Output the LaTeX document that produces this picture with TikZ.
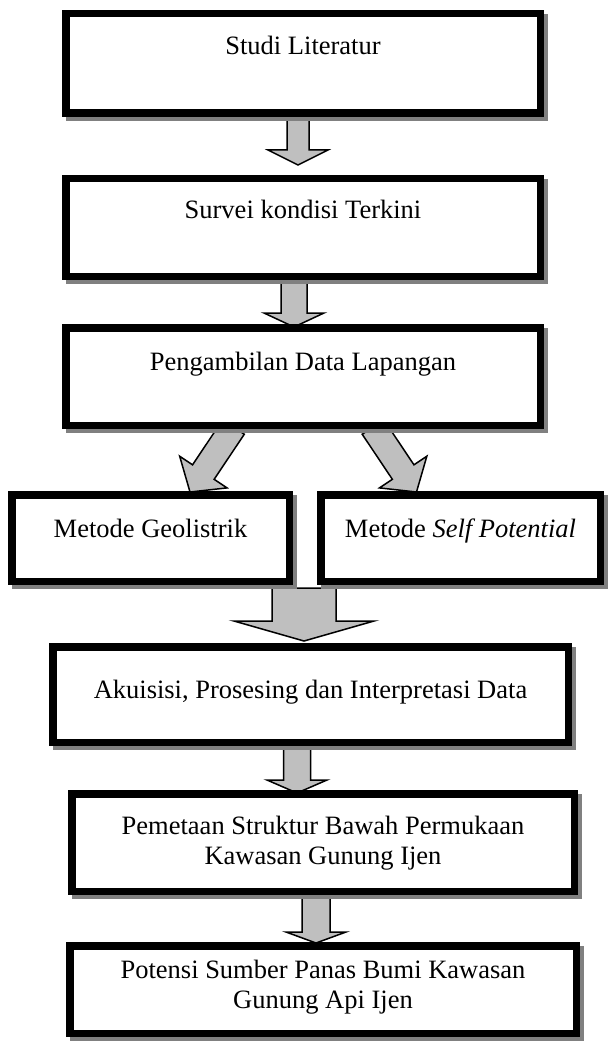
\documentclass[tikz,border=0pt]{standalone}
\usepackage{fontspec}
\setmainfont{Liberation Serif}
\usetikzlibrary{calc}
\tikzset{
  box/.style={draw=black, line width=7.5pt, fill=white, rectangle, inner sep=0pt},
  boxshadow/.style={fill=black!50, draw=none},
  lbl/.style={font=\fontsize{26.5}{30}\selectfont, inner sep=0pt, align=center},
  blockarrow/.style={fill=black!25, draw=black, line width=1.5pt, line join=miter},
}
\newcommand{\flowbox}[5]{%
  \pgfmathsetmacro{\bw}{#4-#2-7.5}%
  \pgfmathsetmacro{\bh}{#5-#3-7.5}%
  \pgfmathsetmacro{\bcx}{(#2+#4)/2}%
  \pgfmathsetmacro{\bcy}{(#3+#5)/2}%
  \fill[boxshadow] (#2+4,#3+4) rectangle (#4+4,#5+4);
  \node[box, minimum width=\bw pt, minimum height=\bh pt] (#1) at (\bcx,\bcy) {};
}
\newcommand{\blockarrowpath}[5]{%
  \coordinate (hb) at ($(#2)!#5!(#1)$);
  \draw[blockarrow] ($(#1)!#3!90:(#2)$) -- ($(hb)!#3!-90:(#1)$) -- ($(hb)!#4!-90:(#1)$) -- (#2) -- ($(hb)!#4!90:(#1)$) -- ($(hb)!#3!90:(#1)$) -- ($(#1)!#3!-90:(#2)$) -- cycle;
}
\begin{document}
\begin{tikzpicture}[x=1pt, y=-1pt]
\useasboundingbox (0,0) rectangle (608,1043);

% arrow end points
\coordinate (s12) at (298,114);  \coordinate (t12) at (298,165);
\coordinate (s23) at (294,277);  \coordinate (t23) at (294,327);
\coordinate (s34) at (233.5,427);  \coordinate (t34) at (190,492);
\coordinate (s35) at (373,427);  \coordinate (t35) at (416.5,492);
\coordinate (s6)  at (304,588);  \coordinate (t6)  at (304,641);
\coordinate (s67) at (297,743);  \coordinate (t67) at (297,793);
\coordinate (s78) at (316,892);  \coordinate (t78) at (316,943);

\blockarrowpath{s12}{t12}{11pt}{30pt}{15pt}
\blockarrowpath{s23}{t23}{13pt}{30pt}{14pt}
\blockarrowpath{s34}{t34}{13pt}{28.5pt}{24pt}
\blockarrowpath{s35}{t35}{13pt}{28.5pt}{24pt}
\blockarrowpath{s6}{t6}{32pt}{70pt}{20pt}
\blockarrowpath{s67}{t67}{13.5pt}{30pt}{13pt}
\blockarrowpath{s78}{t78}{14pt}{30pt}{11pt}

% boxes
\flowbox{b1}{62}{10}{544}{117}
\flowbox{b2}{62}{175}{544}{280}
\flowbox{b3}{62}{324}{544}{429}
\flowbox{b4}{8}{491}{293}{585}
\flowbox{b5}{317}{491}{604}{585}
\flowbox{b6}{49}{643}{572}{746}
\flowbox{b7}{68}{790}{578}{895}
\flowbox{b8}{66}{942}{580}{1037}

% labels
\node[lbl, anchor=base] (l1) at (303,55) {Studi Literatur};
\node[lbl, anchor=base] (l2) at (303,218) {Survei kondisi Terkini};
\node[lbl, anchor=base] (l3) at (303,370) {Pengambilan Data Lapangan};
\node[lbl, anchor=base] (l4) at (150.5,537) {Metode Geolistrik};
\node[lbl, anchor=base] (l5) at (460.5,537) {Metode \textit{Self Potential}};
\node[lbl, anchor=base] (l6) at (310.5,698) {Akuisisi, Prosesing dan Interpretasi Data};
\node[lbl] (l7) at (323,843) {Pemetaan Struktur Bawah Permukaan\\Kawasan Gunung Ijen};
\node[lbl] (l8) at (323,987) {Potensi Sumber Panas Bumi Kawasan\\Gunung Api Ijen};
\end{tikzpicture}
\end{document}
